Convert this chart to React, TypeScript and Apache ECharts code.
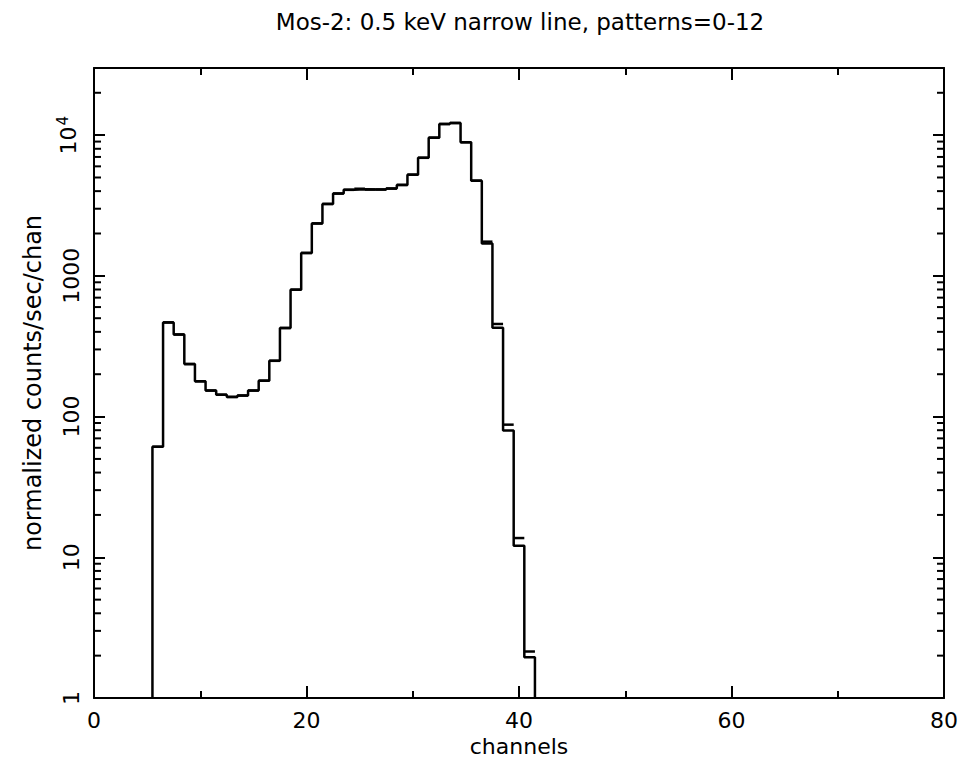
import React, { useEffect, useRef } from 'react';
import * as echarts from 'echarts';

// ---- data ----
const channels = [6, 7, 8, 9, 10, 11, 12, 13, 14, 15, 16, 17, 18, 19, 20, 21, 22, 23, 24, 25, 26, 27, 28, 29, 30, 31, 32, 33, 34, 35, 36, 37, 38, 39, 40, 41];
const modelValues = [61, 467, 383, 236, 178, 153, 143, 138, 141, 153, 180, 249, 426, 798, 1455, 2360, 3245, 3845, 4085, 4125, 4110, 4110, 4170, 4430, 5240, 6900, 9600, 12000, 12200, 8900, 4750, 1700, 427, 79.6, 12.1, 1.95];
const dataValues = [61, 467, 383, 236, 178, 153, 143, 138, 141, 153, 180, 249, 426, 798, 1455, 2360, 3245, 3845, 4085, 4160, 4110, 4110, 4170, 4430, 5240, 6900, 9600, 12000, 12200, 8900, 4750, 1750, 455, 87.6, 13.7, 2.14];
const yMinorTicks = [2, 3, 4, 5, 6, 7, 8, 9, 20, 30, 40, 50, 60, 70, 80, 90, 200, 300, 400, 500, 600, 700, 800, 900, 2000, 3000, 4000, 5000, 6000, 7000, 8000, 9000, 20000];
const xRange = [0, 80];
const yRange = [1, 30000];
const binWidth = 1;

const titleText = 'Mos-2: 0.5 keV narrow line, patterns=0-12';
const xName = 'channels';
const yName = 'normalized counts/sec/chan';

const labelFont = "'DejaVu Sans', sans-serif";
const textFont = "'DejaVu Sans', sans-serif";

function buildStepPoints(xs: number[], vs: number[]) {
  const pts: number[][] = [];
  pts.push([xs[0] - binWidth / 2, yRange[0]]);
  xs.forEach((x, i) => {
    pts.push([x - binWidth / 2, vs[i]]);
    pts.push([x + binWidth / 2, vs[i]]);
  });
  pts.push([xs[xs.length - 1] + binWidth / 2, yRange[0]]);
  return pts;
}

function yLabel(v: number) {
  const l = Math.log10(v);
  const r = Math.round(l);
  if (Math.abs(l - r) > 1e-6) return '';
  if (r >= 4) return '{a|10}{s|' + r + '}';
  return '{a|' + String(Math.round(v)) + '}';
}

export default function App() {
  const ref = useRef<HTMLDivElement>(null);
  useEffect(() => {
    if (!ref.current) return;
    const chart = echarts.init(ref.current, undefined, { renderer: 'svg' });
    const black = '#000';
    const axisLine = { show: true, onZero: false, lineStyle: { color: black, width: 2 } };
    const xCommon: any = {
      type: 'value',
      min: xRange[0],
      max: xRange[1],
      interval: 20,
      axisLine,
      axisTick: { show: true, inside: true, length: 12, lineStyle: { color: black, width: 2 } },
      minorTick: { show: true, splitNumber: 2, length: 7, lineStyle: { color: black, width: 2 } },
      splitLine: { show: false },
      minorSplitLine: { show: false },
    };
    const yCommon: any = {
      type: 'log',
      logBase: 10,
      min: yRange[0],
      max: yRange[1],
      axisLine,
      axisTick: { show: true, inside: true, length: 11, lineStyle: { color: black, width: 2 } },
      splitLine: { show: false },
    };
    const rich = {
      a: { fontSize: 22, fontFamily: labelFont, color: black },
      s: { fontSize: 15, fontFamily: labelFont, color: black, padding: [0, 0, 12, 1] },
    };
    chart.setOption({
      animation: false,
      backgroundColor: '#fff',
      grid: { left: 94, right: 20, top: 68, bottom: 69, containLabel: false },
      graphic: [
        {
          type: 'text',
          x: 520,
          y: 22,
          style: {
            text: titleText,
            fontSize: 23,
            fontFamily: textFont,
            fill: black,
            align: 'center',
            verticalAlign: 'middle',
          },
        },
      ],
      xAxis: [
        {
          ...xCommon,
          position: 'bottom',
          axisLabel: { show: true, margin: 11, fontSize: 22, fontFamily: labelFont, color: black },
          name: xName,
          nameLocation: 'middle',
          nameGap: 36,
          nameTextStyle: { fontSize: 22, fontFamily: textFont, color: black },
        },
        {
          ...xCommon,
          position: 'top',
          axisLabel: { show: false },
        },
      ],
      yAxis: [
        {
          ...yCommon,
          position: 'left',
          axisLabel: { show: true, rotate: 90, margin: 12, formatter: yLabel, rich, showMaxLabel: false },
          name: yName,
          nameLocation: 'middle',
          nameGap: 49,
          nameTextStyle: { fontSize: 24, fontFamily: textFont, color: black },
        },
        {
          ...yCommon,
          position: 'right',
          axisLabel: { show: false },
        },
      ],
      series: [
        {
          type: 'line',
          name: 'model',
          data: buildStepPoints(channels, modelValues),
          showSymbol: false,
          symbol: 'none',
          lineStyle: { color: black, width: 2.5 },
          xAxisIndex: 0,
          yAxisIndex: 0,
          silent: true,
          z: 3,
        },
        {
          type: 'custom',
          name: 'data',
          xAxisIndex: 0,
          yAxisIndex: 0,
          silent: true,
          z: 4,
          data: channels.map((c, i) => [c, dataValues[i]]),
          renderItem: (params: any, api: any) => {
            const x = api.value(0);
            const v = api.value(1);
            const p1 = api.coord([x - binWidth / 2, v]);
            const p2 = api.coord([x + binWidth / 2, v]);
            return {
              type: 'line',
              shape: { x1: p1[0], y1: p1[1], x2: p2[0], y2: p2[1] },
              style: { stroke: black, lineWidth: 2.5 },
            };
          },
        },
        {
          type: 'custom',
          name: 'yMinorTicks',
          xAxisIndex: 0,
          yAxisIndex: 0,
          silent: true,
          clip: false,
          z: 5,
          data: yMinorTicks.map((v) => [xRange[0], v]),
          renderItem: (params: any, api: any) => {
            const v = api.value(1);
            const l = api.coord([xRange[0], v]);
            const r = api.coord([xRange[1], v]);
            return {
              type: 'group',
              children: [
                { type: 'line', shape: { x1: l[0], y1: l[1], x2: l[0] + 7, y2: l[1] }, style: { stroke: black, lineWidth: 2 } },
                { type: 'line', shape: { x1: r[0] - 7, y1: r[1], x2: r[0], y2: r[1] }, style: { stroke: black, lineWidth: 2 } },
              ],
            };
          },
        },
      ],
    });
    return () => chart.dispose();
  }, []);
  return <div ref={ref} style={{ position: 'fixed', left: 0, top: 0, width: 964, height: 767, background: '#fff' }} />;
}
